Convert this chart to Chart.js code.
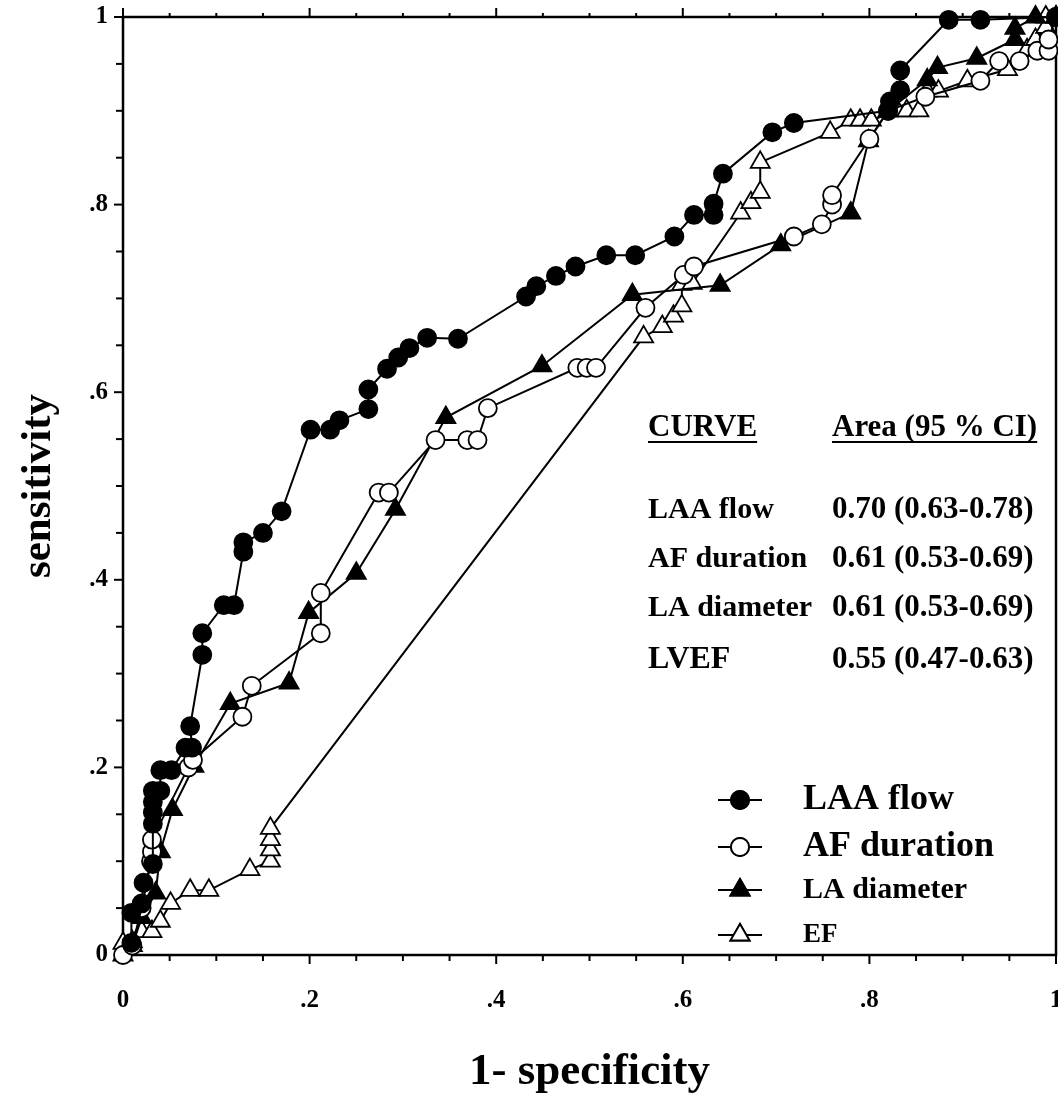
<!DOCTYPE html>
<html><head><meta charset="utf-8">
<script src="https://cdn.jsdelivr.net/npm/chart.js@4.4.1/dist/chart.umd.min.js"></script>
<style>html,body{margin:0;padding:0;background:#fff;}#wrap{width:1058px;height:1118px;}</style>
</head><body><div id="wrap"><canvas id="c" width="1058" height="1118"></canvas></div>
<script>
// ---- data (1-specificity, sensitivity) ----
const laaX = [0.009,0.009,0.02,0.022,0.032,0.032,0.032,0.032,0.032,0.04,0.04,0.052,0.067,0.074,0.072,0.085,0.085,0.108,0.119,0.129,0.129,0.150,0.170,0.201,0.222,0.232,0.263,0.263,0.283,0.295,0.307,0.326,0.359,0.432,0.443,0.464,0.485,0.518,0.549,0.591,0.612,0.633,0.633,0.643,0.696,0.719,0.82,0.822,0.833,0.833,0.885,0.919,1.0];
const laaY = [0.013,0.045,0.055,0.077,0.097,0.14,0.152,0.163,0.175,0.175,0.197,0.197,0.221,0.221,0.244,0.32,0.343,0.373,0.373,0.43,0.44,0.45,0.473,0.56,0.56,0.57,0.582,0.603,0.625,0.637,0.647,0.658,0.657,0.702,0.713,0.724,0.734,0.746,0.746,0.766,0.789,0.789,0.801,0.833,0.877,0.887,0.9,0.91,0.922,0.943,0.997,0.997,1.0];

const afX = [0.0,0.01,0.02,0.03,0.031,0.031,0.07,0.075,0.128,0.138,0.212,0.212,0.274,0.285,0.335,0.369,0.38,0.391,0.487,0.497,0.507,0.56,0.601,0.612,0.719,0.749,0.76,0.76,0.80,0.82,0.86,0.919,0.939,0.961,0.98,0.992,0.992,1.0];
const afY = [0.0,0.01,0.05,0.1,0.11,0.123,0.2,0.208,0.254,0.287,0.343,0.386,0.493,0.493,0.549,0.549,0.549,0.583,0.626,0.626,0.626,0.69,0.725,0.734,0.766,0.779,0.80,0.81,0.87,0.9,0.915,0.932,0.953,0.953,0.964,0.964,0.976,1.0];

const laX = [0.0,0.01,0.02,0.035,0.04,0.053,0.076,0.115,0.178,0.199,0.25,0.292,0.346,0.449,0.546,0.640,0.705,0.780,0.799,0.82,0.862,0.873,0.915,0.956,0.956,0.978,1.0];
const laY = [0.0,0.01,0.04,0.066,0.11,0.155,0.201,0.268,0.29,0.365,0.407,0.475,0.573,0.628,0.704,0.714,0.757,0.791,0.868,0.9,0.933,0.946,0.956,0.976,0.988,1.0,1.0];

const efX = [0.0,0.01,0.02,0.031,0.04,0.051,0.072,0.092,0.136,0.158,0.158,0.158,0.158,0.558,0.578,0.590,0.599,0.599,0.61,0.662,0.673,0.683,0.683,0.758,0.78,0.79,0.802,0.830,0.84,0.853,0.862,0.874,0.905,0.948,0.969,0.978,0.989,0.989,1.0];
const efY = [0.0125,0.014,0.025,0.025,0.036,0.055,0.069,0.069,0.091,0.10,0.112,0.123,0.135,0.659,0.670,0.681,0.692,0.715,0.716,0.791,0.802,0.813,0.845,0.877,0.89,0.89,0.89,0.90,0.90,0.90,0.921,0.921,0.932,0.944,0.965,0.976,0.989,1.0,1.0];

const xTickLabels = ['0','.2','.4','.6','.8','1'];
const yTickLabels = ['0','.2','.4','.6','.8','1'];
const legendNames = ['LAA flow','AF duration','LA diameter','EF'];
const tableCurves = ['LAA flow','AF duration','LA diameter','LVEF'];
const tableAreas = ['0.70 (0.63-0.78)','0.61 (0.53-0.69)','0.61 (0.53-0.69)','0.55 (0.47-0.63)'];

const SERIF = '"Liberation Serif","DejaVu Serif",serif';
const pts = (xs, ys) => xs.map((x, i) => ({x, y: ys[i]}));
function lbl(v, arr){ const k = Math.round(v*100); return (k % 20 === 0) ? arr[k/20] : ''; }

const styles = [
  {style:'circle', fill:'#000', r:9},
  {style:'circle', fill:'#fff', r:9},
  {style:'triangle', fill:'#000', r:11},
  {style:'triangle', fill:'#fff', r:11}
];
const series = [pts(laaX,laaY), pts(afX,afY), pts(laX,laY), pts(efX,efY)];

const datasets = series.map((d,i) => ({
  label: legendNames[i], data: d, showLine: true,
  borderColor:'#000', borderWidth:2, backgroundColor: styles[i].fill,
  pointStyle: styles[i].style, pointRadius: styles[i].r, pointHoverRadius: styles[i].r,
  pointBorderColor:'#000', pointBackgroundColor: styles[i].fill, pointBorderWidth:1.8,
  clip:false, tension:0
}));

const framePlugin = {
  id:'frame',
  beforeDatasetsDraw(chart){
    const {ctx, chartArea:a, scales:{x,y}} = chart;
    ctx.save();
    ctx.strokeStyle='#000'; ctx.lineWidth=2.5;
    ctx.strokeRect(a.left, a.top, a.right-a.left, a.bottom-a.top);
    ctx.lineWidth=2;
    for(let k=0;k<=20;k++){
      const v=k/20, major=(k%4===0);
      const px=x.getPixelForValue(v);
      ctx.beginPath(); ctx.moveTo(px,a.bottom); ctx.lineTo(px,a.bottom+(major?9:6)); ctx.stroke();
      ctx.beginPath(); ctx.moveTo(px,a.top); ctx.lineTo(px,a.top-(major?9:4)); ctx.stroke();
      const py=y.getPixelForValue(v);
      ctx.beginPath(); ctx.moveTo(a.left,py); ctx.lineTo(a.left-(major?9:7),py); ctx.stroke();
    }
    ctx.restore();
  },
  afterDraw(chart){
    const ctx=chart.ctx;
    ctx.save();
    ctx.fillStyle='#000'; ctx.strokeStyle='#000';
    // table
    ctx.textBaseline='alphabetic'; ctx.textAlign='left';
    ctx.font='bold 31px '+SERIF;
    ctx.fillText('CURVE',648,436);
    ctx.fillText('Area (95 % CI)',832,436);
    ctx.lineWidth=2;
    let w1=ctx.measureText('CURVE').width, w2=ctx.measureText('Area (95 % CI)').width;
    ctx.beginPath(); ctx.moveTo(648,442); ctx.lineTo(648+w1,442); ctx.stroke();
    ctx.beginPath(); ctx.moveTo(832,442); ctx.lineTo(832+w2,442); ctx.stroke();
    const rowY=[518,567,616,668];
    tableCurves.forEach((t,i)=>{
      ctx.font = (i===3?'bold 32px ':'bold 30px ')+SERIF;
      ctx.fillText(t,648,rowY[i]);
      ctx.font='bold 31px '+SERIF;
      ctx.fillText(tableAreas[i],832,rowY[i]);
    });
    // legend
    const legY=[800,847,890,935];
    const legFont=['bold 36px ','bold 36px ','bold 30px ','bold 27px '];
    legendNames.forEach((n,i)=>{
      const yy=legY[i];
      ctx.lineWidth=2;
      ctx.beginPath(); ctx.moveTo(718,yy); ctx.lineTo(762,yy); ctx.stroke();
      Chart.helpers.drawPoint(ctx,{pointStyle:styles[i].style,radius:styles[i].r,rotation:0,borderWidth:1.8},740,yy);
      ctx.fillStyle=styles[i].fill; ctx.fill();
      ctx.lineWidth=1.8; ctx.stroke();
      ctx.fillStyle='#000';
      ctx.font=legFont[i]+SERIF; ctx.textBaseline='middle';
      ctx.fillText(n,803,yy);
    });
    ctx.restore();
  }
};

new Chart(document.getElementById('c'), {
  type:'scatter',
  data:{datasets},
  plugins:[framePlugin],
  options:{
    responsive:false, animation:false, devicePixelRatio:1,
    layout:{autoPadding:false, padding:{top:17,right:2,left:0,bottom:0}},
    plugins:{legend:{display:false}, tooltip:{enabled:false}},
    scales:{
      x:{type:'linear',min:0,max:1,
        grid:{display:false,drawTicks:false},
        border:{display:false},
        ticks:{stepSize:0.05,autoSkip:false,maxRotation:0,color:'#000',padding:31,
          font:{family:SERIF,size:25,weight:'bold'},callback:v=>lbl(v,xTickLabels)},
        title:{display:true,text:'1- specificity',color:'#000',font:{family:SERIF,size:45,weight:'bold'},padding:{top:0,bottom:19}},
        afterFit(s){ s.height=163; s.paddingLeft=0; s.paddingRight=0; }
      },
      y:{type:'linear',min:0,max:1,
        grid:{display:false,drawTicks:false},
        border:{display:false},
        ticks:{stepSize:0.05,autoSkip:false,color:'#000',padding:15,
          font:{family:SERIF,size:25,weight:'bold'},callback:v=>lbl(v,yTickLabels)},
        title:{display:true,text:'sensitivity',color:'#000',font:{family:SERIF,size:43,weight:'bold'},padding:{top:13,bottom:0}},
        afterFit(s){ s.width=123; s.paddingTop=0; s.paddingBottom=0; }
      }
    }
  }
});
</script></body></html>
